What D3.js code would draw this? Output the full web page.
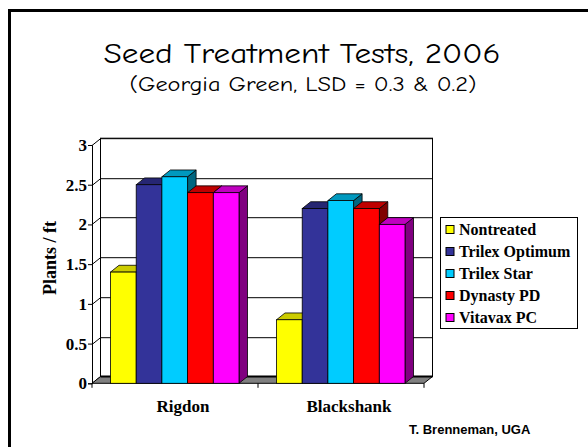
<!DOCTYPE html>
<html>
<head>
<meta charset="utf-8">
<script src="https://cdn.jsdelivr.net/npm/d3@7"></script>
<style>
  body { margin: 0; background: #fff; }
  svg { display: block; }
</style>
</head>
<body>
<div id="chart"></div>
<script>
// data
const categories = ["Rigdon", "Blackshank"];
const series = ["Nontreated", "Trilex Optimum", "Trilex Star", "Dynasty PD", "Vitavax PC"];
const values = {
  "Nontreated":     [1.4, 0.8],
  "Trilex Optimum": [2.5, 2.2],
  "Trilex Star":    [2.6, 2.3],
  "Dynasty PD":     [2.4, 2.2],
  "Vitavax PC":     [2.4, 2.0]
};
const yTicks = [0, 0.5, 1, 1.5, 2, 2.5, 3];

// colours: front, top, side
const colors = {
  "Nontreated":     ["#ffff00", "#cccc00", "#999900"],
  "Trilex Optimum": ["#333399", "#262673", "#1a1a4d"],
  "Trilex Star":    ["#00ccff", "#0099bf", "#006680"],
  "Dynasty PD":     ["#ff0000", "#bf0000", "#800000"],
  "Vitavax PC":     ["#ff00ff", "#bf00bf", "#800080"]
};

const SERIF = "'Liberation Serif', 'Times New Roman', serif";
const COMIC = "'Comic Sans MS', 'Comic Neue', 'Noto Sans', sans-serif";

const W = 588, H = 447;
const svg = d3.select("#chart").append("svg").attr("width", W).attr("height", H);

// slide frame
svg.append("path")
  .attr("d", "M9.5,447 L9.5,10.5 L588,10.5")
  .attr("fill", "none").attr("stroke", "#000").attr("stroke-width", 3);

// titles
svg.append("text").attr("font-family", COMIC)
  .attr("x", 302).attr("y", 63).attr("text-anchor", "middle")
  .attr("font-size", 28).attr("textLength", 397).attr("lengthAdjust", "spacingAndGlyphs")
  .text("Seed Treatment Tests, 2006");
svg.append("text").attr("font-family", COMIC)
  .attr("x", 303).attr("y", 91).attr("text-anchor", "middle")
  .attr("font-size", 20).attr("textLength", 347).attr("lengthAdjust", "spacingAndGlyphs")
  .text("(Georgia Green, LSD = 0.3 & 0.2)");

// 3D geometry
const dx = 8.5, dy = -6.8;
const x = d3.scaleBand().domain(categories).range([92, 424]);
const xs = d3.scaleBand().domain(series).range([18.5, 147]);
const y = d3.scaleLinear().domain([0, 3]).range([383.3, 145]);

const g = svg.append("g");
const x0 = x.range()[0], x1 = x.range()[1], y0 = y(0);

// back wall
g.append("rect")
  .attr("x", x0 + dx).attr("y", y(3) + dy)
  .attr("width", x1 - x0).attr("height", y(0) - y(3))
  .attr("fill", "#fff").attr("stroke", "#000").attr("stroke-width", 1);

// grid lines on back and side walls
yTicks.forEach(t => {
  const yy = Math.round(y(t)) + 0.5;
  g.append("path")
    .attr("d", `M${x0},${yy} L${x0 + dx},${yy + dy} L${x1 + dx},${yy + dy}`)
    .attr("fill", "none").attr("stroke", "#000").attr("stroke-width", 1);
});

// floor
g.append("path")
  .attr("d", `M${x0},${y0} L${x0 + dx},${y0 + dy} L${x1 + dx},${y0 + dy} L${x1},${y0} Z`)
  .attr("fill", "#808080").attr("stroke", "#000").attr("stroke-width", 1);
g.append("line")
  .attr("x1", x0 + dx).attr("x2", x1 + dx).attr("y1", y0 + dy).attr("y2", y0 + dy)
  .attr("stroke", "#000").attr("stroke-width", 2);

// bars
categories.forEach((c, ci) => {
  series.forEach(s => {
    const v = values[s][ci];
    const bx = x(c) + xs(s), bw = xs.bandwidth();
    const top = y(v), bot = y(0);
    const col = colors[s];
    const bar = g.append("g");
    bar.append("path")
      .attr("d", `M${bx + bw},${top} L${bx + bw + dx},${top + dy} L${bx + bw + dx},${bot + dy} L${bx + bw},${bot} Z`)
      .attr("fill", col[2]).attr("stroke", "#000").attr("stroke-width", 0.8);
    bar.append("path")
      .attr("d", `M${bx},${top} L${bx + dx},${top + dy} L${bx + bw + dx},${top + dy} L${bx + bw},${top} Z`)
      .attr("fill", col[1]).attr("stroke", "#000").attr("stroke-width", 0.8);
    bar.append("rect")
      .attr("x", bx).attr("y", top).attr("width", bw).attr("height", bot - top)
      .attr("fill", col[0]).attr("stroke", "#000").attr("stroke-width", 0.8);
  });
});

// y axis
const yAxis = d3.axisLeft(y).tickValues(yTicks).tickSize(4).tickPadding(1)
  .tickFormat(d => d3.format("")(d));
const ya = svg.append("g").attr("transform", `translate(${x0},0)`).call(yAxis)
  .attr("font-family", SERIF).attr("font-size", 17).attr("font-weight", "bold");
ya.selectAll("text").attr("fill", "#000");
ya.selectAll("line,path").attr("stroke", "#000");

// x axis ticks at category boundaries
const xa = svg.append("g").attr("transform", `translate(0,${y0})`);
[x0, x(categories[1]), x1].forEach(b => {
  xa.append("line").attr("x1", b).attr("x2", b).attr("y1", 0).attr("y2", 4.5).attr("stroke", "#000");
});
svg.append("g").selectAll("text").data(categories).join("text")
  .attr("font-family", SERIF).attr("font-weight", "bold").attr("font-size", 17)
  .attr("text-anchor", "middle")
  .attr("x", d => x(d) + x.bandwidth() / 2 + 8).attr("y", 412)
  .text(d => d);

// y label
svg.append("text").attr("font-family", SERIF).attr("font-weight", "bold").attr("font-size", 18)
  .attr("text-anchor", "middle")
  .attr("transform", "translate(56,258) rotate(-90)")
  .text("Plants / ft");

// legend
const lg = svg.append("g").attr("transform", "translate(440,217)");
lg.append("rect").attr("x", 0.5).attr("y", 0.5).attr("width", 137).attr("height", 111)
  .attr("fill", "#fff").attr("stroke", "#000");
series.forEach((s, i) => {
  const row = lg.append("g").attr("transform", `translate(0,${12.5 + i * 22})`);
  row.append("rect").attr("x", 6).attr("y", -4).attr("width", 8).attr("height", 8)
    .attr("fill", colors[s][0]).attr("stroke", "#000");
  row.append("text").attr("font-family", SERIF).attr("font-weight", "bold").attr("font-size", 16)
    .attr("x", 19).attr("y", 5.5).text(s);
});

// credit
svg.append("text")
  .attr("font-family", "Arial, 'Liberation Sans', sans-serif").attr("font-weight", "bold")
  .attr("font-size", 13).attr("x", 409).attr("y", 434)
  .text("T. Brenneman, UGA");
</script>
</body>
</html>
